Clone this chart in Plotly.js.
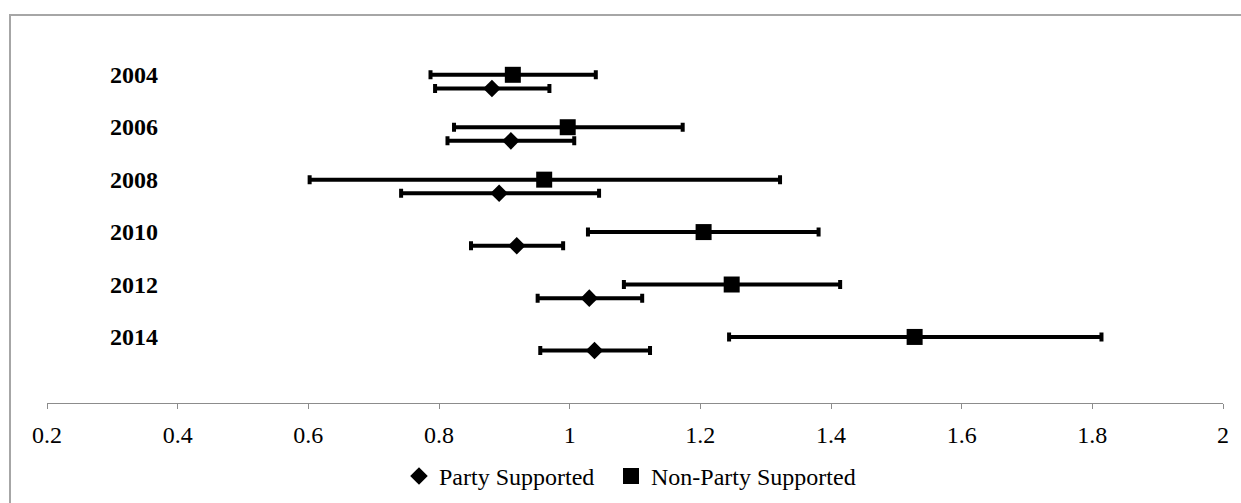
<!DOCTYPE html>
<html>
<head>
<meta charset="utf-8">
<script src="https://cdn.plot.ly/plotly-3.0.1.min.js"></script>
<style>
  html, body { margin: 0; padding: 0; background: #ffffff; }
  #wrap { position: relative; width: 1241px; height: 503px; overflow: hidden; }
  #chart { position: absolute; left: 0; top: 0; width: 1241px; height: 503px; }
  #frame { position: absolute; left: 9px; top: 14px; width: 1240px; height: 500px;
           border-left: 2px solid #a6a6a6; border-top: 2px solid #a6a6a6; pointer-events: none; }
</style>
</head>
<body>
<div id="wrap">
  <div id="chart"></div>
  <div id="frame"></div>
</div>
<script>
// ---- data ----
const years = ['2004', '2006', '2008', '2010', '2012', '2014'];

const partyEst  = [0.881, 0.910, 0.892, 0.919, 1.030, 1.038];
const partyLow  = [0.794, 0.813, 0.742, 0.849, 0.951, 0.955];
const partyHigh = [0.969, 1.007, 1.045, 0.990, 1.111, 1.123];

const nonEst  = [0.913, 0.997, 0.961, 1.205, 1.248, 1.528];
const nonLow  = [0.787, 0.823, 0.602, 1.028, 1.083, 1.244];
const nonHigh = [1.040, 1.173, 1.322, 1.381, 1.414, 1.814];

const xTicks = [0.2, 0.4, 0.6, 0.8, 1, 1.2, 1.4, 1.6, 1.8, 2];

// ---- layout helpers ----
const n = years.length;
const partyRow = years.map((_, i) => n - i);          // 2004 at top
const nonRow   = partyRow.map(r => r + 0.26);          // slightly above party row

const serif = 'Liberation Serif, Times New Roman, serif';

function errTrace(name, est, low, high, rows, symbol, size, legendId) {
  return {
    type: 'scatter',
    mode: 'markers',
    name: name,
    legend: legendId,
    x: est,
    y: rows,
    marker: { symbol: symbol, size: size, color: '#000000', line: { width: 0 } },
    error_x: {
      type: 'data',
      symmetric: false,
      array: high.map((h, i) => h - est[i]),
      arrayminus: low.map((l, i) => est[i] - l),
      color: '#000000',
      thickness: 4,
      width: 4.5
    },
    hoverinfo: 'x+name'
  };
}

const data = [
  errTrace('Party Supported', partyEst, partyLow, partyHigh, partyRow, 'diamond', 13.5, 'legend'),
  errTrace('Non-Party Supported', nonEst, nonLow, nonHigh, nonRow, 'square', 16, 'legend2')
];

const yearLabels = years.map((yr, i) => ({
  text: '<b>' + yr + '</b>',
  xref: 'paper', x: 0.0519, xanchor: 'left',
  yref: 'y', y: nonRow[i], yanchor: 'middle',
  showarrow: false,
  font: { family: serif, size: 24, color: '#000000' }
}));

function legendBox(xPos) {
  return {
    orientation: 'h',
    x: xPos, xanchor: 'left',
    y: -0.2, yanchor: 'middle',
    font: { family: serif, size: 24, color: '#000000' },
    itemwidth: 30,
    bgcolor: 'rgba(0,0,0,0)'
  };
}

const layout = {
  width: 1241,
  height: 503,
  margin: { l: 47, r: 18, t: 36, b: 100, autoexpand: false },
  paper_bgcolor: '#ffffff',
  plot_bgcolor: '#ffffff',
  font: { family: serif, color: '#000000', size: 24 },
  showlegend: true,
  legend: legendBox(0.2993),
  legend2: legendBox(0.4796),
  annotations: yearLabels,
  xaxis: {
    range: [0.2, 2],
    tickmode: 'array',
    tickvals: xTicks,
    ticktext: xTicks.map(v => String(v)),
    showgrid: false,
    zeroline: false,
    showline: true,
    linecolor: '#8c8c8c',
    linewidth: 1,
    ticks: 'outside',
    ticklen: 5,
    tickcolor: '#8c8c8c',
    ticklabelstandoff: 5,
    tickfont: { family: serif, size: 24, color: '#000000' },
    fixedrange: true
  },
  yaxis: {
    range: [0, 7],
    showticklabels: false,
    showgrid: false,
    zeroline: false,
    showline: false,
    ticks: '',
    fixedrange: true
  }
};

Plotly.newPlot('chart', data, layout, { displayModeBar: false, staticPlot: true });
</script>
</body>
</html>
